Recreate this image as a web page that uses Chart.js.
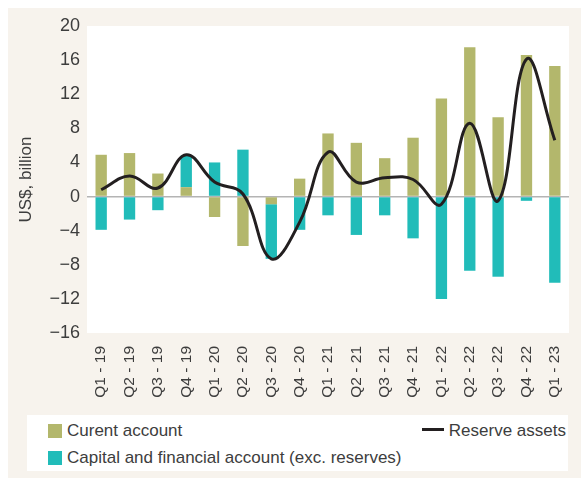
<!DOCTYPE html>
<html>
<head>
<meta charset="utf-8">
<script src="https://cdn.jsdelivr.net/npm/chart.js@4"></script>
<style>
  body { margin: 0; background: #fff; font-family: "Liberation Sans", Arial, sans-serif; color: #3d3d3d; }
  #frame { position: absolute; left: 8px; top: 8px; width: 573px; height: 470px; background: #f7f3ed; }
  #chart-box { position: absolute; left: 0; top: 0; width: 581px; height: 410px; }
  #legend { position: absolute; left: 27px; top: 415px; width: 541px; height: 56px; background: #fff; font-size: 17px; }
  .item { position: absolute; line-height: 20px; white-space: nowrap; }
  .swatch { display: inline-block; width: 14px; height: 14px; vertical-align: -2px; margin-right: 5px; }
  .dash { display: inline-block; width: 22px; height: 3px; background: #231f20; vertical-align: 5px; margin-right: 5px; }
</style>
</head>
<body>
<div id="frame"></div>
<div id="chart-box"><canvas id="balance-chart" width="581" height="410"></canvas></div>
<div id="legend">
  <div class="item" style="left:21px; top:6px;"><span class="swatch" style="background:#b3b76c"></span>Curent account</div>
  <div class="item" style="left:21px; top:33px;"><span class="swatch" style="background:#21bcb9"></span>Capital and financial account (exc. reserves)</div>
  <div class="item" style="right:2px; top:6px;"><span class="dash"></span>Reserve assets</div>
</div>
<script>
const quarters = ['Q1 - 19', 'Q2 - 19', 'Q3 - 19', 'Q4 - 19', 'Q1 - 20', 'Q2 - 20', 'Q3 - 20', 'Q4 - 20',
  'Q1 - 21', 'Q2 - 21', 'Q3 - 21', 'Q4 - 21', 'Q1 - 22', 'Q2 - 22', 'Q3 - 22', 'Q4 - 22', 'Q1 - 23'];
const currentAccount = [4.9, 5.1, 2.7, 1.1, -2.4, -5.8, -0.9, 2.1, 7.4, 6.3, 4.5, 6.9, 11.5, 17.5, 9.3, 16.6, 15.3];
const capitalAccount = [-3.9, -2.7, -1.6, 3.7, 4.0, 5.5, -6.4, -3.9, -2.2, -4.5, -2.2, -4.9, -12.0, -8.7, -9.4, -0.5, -10.1];
const reserveAssets = [0.8, 2.4, 1.0, 4.9, 1.7, 0.3, -7.3, -3.0, 5.2, 1.7, 2.2, 2.0, -0.9, 8.6, -0.5, 16.1, 6.6];
const yTicks = [-16, -12, -8, -4, 0, 4, 8, 12, 16, 20];

const fontFamily = '"Liberation Sans", Arial, sans-serif';
const textColor = '#3d3d3d';

// white plot area over the beige frame
const plotBackground = {
  id: 'plotBackground',
  beforeDraw(chart) {
    const { ctx, chartArea } = chart;
    ctx.save();
    ctx.fillStyle = '#fff';
    ctx.fillRect(chartArea.left, chartArea.top, chartArea.right - chartArea.left, chartArea.bottom - chartArea.top);
    ctx.restore();
  }
};

const ctx = document.getElementById('balance-chart').getContext('2d');
new Chart(ctx, {
  data: {
    labels: quarters,
    datasets: [
      {
        type: 'line',
        label: 'Reserve assets',
        data: reserveAssets,
        stack: 'reserve',
        borderColor: '#231f20',
        borderWidth: 3,
        pointRadius: 0,
        tension: 0.4,
        fill: false
      },
      {
        type: 'bar',
        label: 'Curent account',
        data: currentAccount,
        stack: 'bop',
        backgroundColor: '#b3b76c',
        barPercentage: 0.8,
        categoryPercentage: 0.5
      },
      {
        type: 'bar',
        label: 'Capital and financial account (exc. reserves)',
        data: capitalAccount,
        stack: 'bop',
        backgroundColor: '#21bcb9',
        barPercentage: 0.8,
        categoryPercentage: 0.5
      }
    ]
  },
  options: {
    responsive: false,
    animation: false,
    layout: { padding: { top: 26, right: 12, left: 0, bottom: 0 } },
    plugins: { legend: { display: false }, tooltip: { enabled: false } },
    scales: {
      x: {
        stacked: true,
        grid: { display: false },
        border: { display: false },
        ticks: {
          minRotation: 90, maxRotation: 90, padding: 5,
          color: textColor, font: { family: fontFamily, size: 15.5 }
        },
        afterFit(scale) { scale.height = 77; }
      },
      y: {
        stacked: true,
        min: -16, max: 20,
        afterBuildTicks(scale) { scale.ticks = yTicks.map(v => ({ value: v })); },
        grid: {
          drawTicks: false,
          color: c => (c.tick && c.tick.value === 0 ? '#b4b4b4' : 'rgba(0,0,0,0)'),
          lineWidth: 1.5
        },
        border: { display: false },
        ticks: {
          padding: 7,
          color: textColor,
          font: { family: fontFamily, size: 18 },
          callback: v => String(v).replace('-', '\u2212')
        },
        title: {
          display: true,
          text: 'US$, billion',
          color: textColor,
          font: { family: fontFamily, size: 17 },
          padding: { top: 16, bottom: 0 }
        },
        afterFit(scale) { scale.width = 87; }
      }
    }
  },
  plugins: [plotBackground]
});
</script>
</body>
</html>
